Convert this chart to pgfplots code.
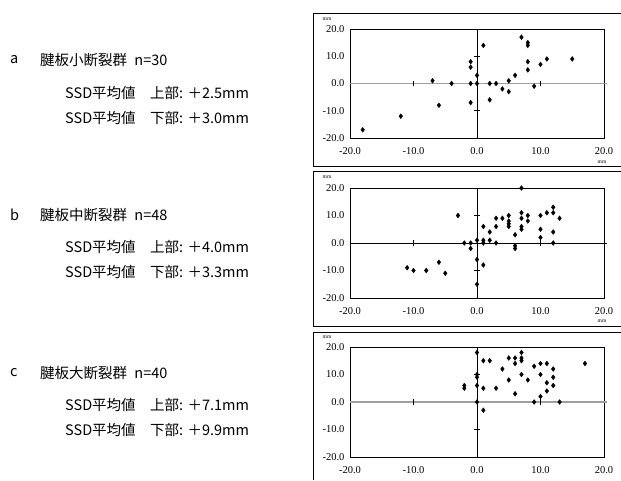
\documentclass[border=0pt]{standalone}
\usepackage{fontspec}
\setmainfont{Noto Sans CJK JP}
\newfontfamily\tickfont{Liberation Serif}
\usepackage{pgfplots}
\pgfplotsset{compat=1.18}

\pgfplotstableread{
x y
-18 -17
-12 -12
-7 1
-6 -8
-4 0
-1 8
-1 6
-1 0
-1 -7
0 3
0 0
1 14
2 0
2 -6
3 0
4 -2
5 1
5 -3
6 3
7 17
8 15
8 14
8 8
8 5
9 -1
10 7
11 9
15 9
}\dataA

\pgfplotstableread{
x y
-11 -9
-10 -10
-8 -10
-6 -7
-5 -11
-3 10
-2 0
-1 0
-1 -2
0 1
0 -6
0 -15
1 6
1 1
1 0
1 -8
2 4
2 1
3 9
3 6
3 0
4 9
5 10
5 8
5 7
5 6
6 3
6 -1
6 -2
7 20
7 11
7 9
7 6
7 5
8 10
8 8
10 10
10 5
10 2
11 11
12 13
12 11
12 4
12 0
13 9
}\dataB

\pgfplotstableread{
x y
-2 6
-2 5
0 18
0 10
0 9
0 6
0 0
1 15
1 5
1 -3
2 15
3 5
4 12
5 16
5 8
6 16
6 14
6 3
7 18
7 16
7 15
7 10
8 8
9 13
9 0
10 14
10 10
10 2
11 14
11 7
11 4
12 12
12 9
12 6
13 0
17 14
}\dataC

\pgfplotsset{
 panel/.style={
  scale only axis, width=254pt, height=110pt, anchor=south west,
  xmin=-20,xmax=20,ymin=-20,ymax=20,
  xtick={-20,-10,0,10,20}, ytick={-20,-10,0,10,20},
  xticklabels={-20.0,-10.0,0.0,10.0,20.0},
  yticklabels={-20.0,-10.0,0.0,10.0,20.0},
  major tick length=0pt,
  tick label style={font=\tickfont\fontsize{10.5}{10.5}\selectfont},
  xticklabel style={yshift=-6pt},
  yticklabel style={xshift=-2pt},
  axis line style={line width=0.8pt},
  clip=false,
 },
 dots/.style={only marks, mark=diamond*, mark size=2.4pt, black},
}

\newcommand{\zeroticks}{%
  \draw[black, line width=0.6pt] (axis cs:-10,-1.1) -- (axis cs:-10,1.1);
  \draw[black, line width=0.6pt] (axis cs:10,-1.1) -- (axis cs:10,1.1);
  \draw[black, line width=0.6pt] (axis cs:-0.45,10) -- (axis cs:0.45,10);
  \draw[black, line width=0.6pt] (axis cs:-0.45,-10) -- (axis cs:0.45,-10);
}

\begin{document}
\begin{tikzpicture}[x=1pt,y=1pt]
\useasboundingbox (0,0) rectangle (621,480);

% outer frames
\draw[line width=1pt] (621,466) -- (313,466) -- (313,313) -- (621,313);
\draw[line width=1pt] (621,308) -- (313,308) -- (313,154) -- (621,154);
\draw[line width=1pt] (621,148) -- (313,148) -- (313,0);

% left texts
\begin{scope}[every node/.style={anchor=west, inner sep=0pt, font=\fontsize{14.5}{15}\selectfont}]
\node at (10,420) {a};
\node at (40,420) {腱板小断裂群\hspace{0.5em}n=30};
\node at (65,387) {SSD平均値　上部: ＋2.5mm};
\node at (65,362) {SSD平均値　下部: ＋3.0mm};
\node at (10,265) {b};
\node at (40,265) {腱板中断裂群\hspace{0.5em}n=48};
\node at (65,233) {SSD平均値　上部: ＋4.0mm};
\node at (65,208) {SSD平均値　下部: ＋3.3mm};
\node at (10,107) {c};
\node at (40,107) {腱板大断裂群\hspace{0.5em}n=40};
\node at (65,75) {SSD平均値　上部: ＋7.1mm};
\node at (65,50) {SSD平均値　下部: ＋9.9mm};
\end{scope}

% mm labels
\begin{scope}[every node/.style={inner sep=0pt, font=\tickfont\fontsize{5.5}{6}\selectfont}]
\node at (327,461) {mm};
\node at (602,318) {mm};
\node at (327,303) {mm};
\node at (602,159) {mm};
\node at (327,143) {mm};
\end{scope}

% panel a
\begin{axis}[panel, at={(350pt,342pt)}, height=109pt]
\draw[gray!75, line width=1.5pt] (axis cs:-20,0) -- (axis cs:20.4,0);
\draw[black, line width=0.6pt] (axis cs:0,-20) -- (axis cs:0,20);
\zeroticks
\addplot[dots] table[x=x,y=y] {\dataA};
\end{axis}

% panel b
\begin{axis}[panel, at={(350pt,182pt)}]
\draw[black, line width=0.8pt] (axis cs:-20,0) -- (axis cs:20.4,0);
\draw[black, line width=0.6pt] (axis cs:0,-20) -- (axis cs:0,20);
\zeroticks
\addplot[dots] table[x=x,y=y] {\dataB};
\end{axis}

% panel c
\begin{axis}[panel, at={(350pt,23pt)}]
\draw[gray!75, line width=1.5pt] (axis cs:-20,0) -- (axis cs:20.4,0);
\draw[black, line width=0.6pt] (axis cs:0,-20) -- (axis cs:0,20);
\zeroticks
\addplot[dots] table[x=x,y=y] {\dataC};
\end{axis}
\end{tikzpicture}
\end{document}
